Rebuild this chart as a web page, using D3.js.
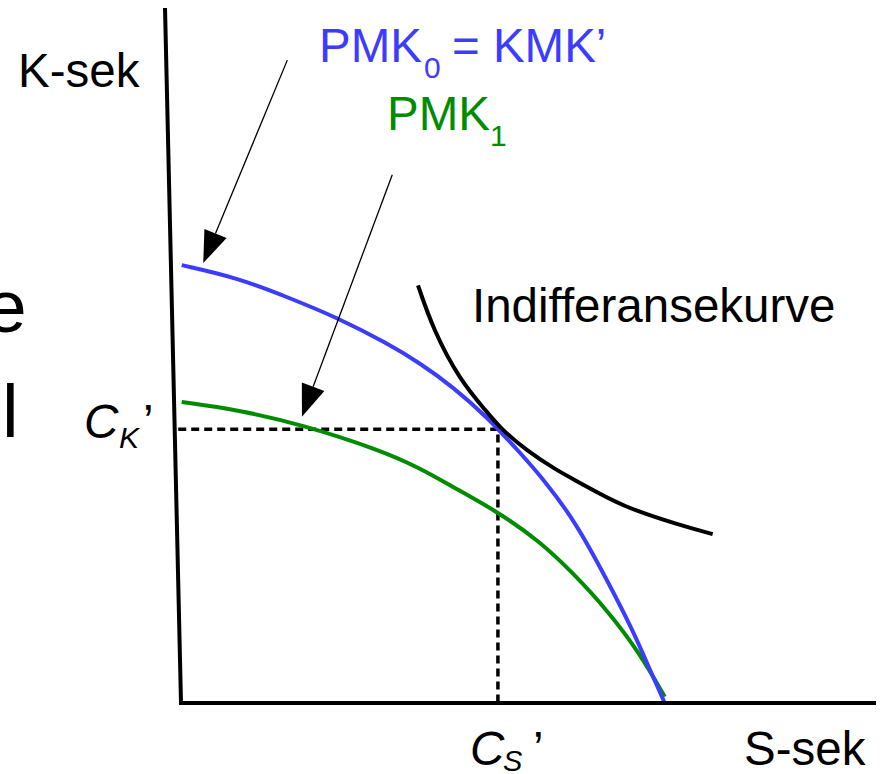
<!DOCTYPE html>
<html>
<head>
<meta charset="utf-8">
<script src="https://cdn.jsdelivr.net/npm/d3@7/dist/d3.min.js"></script>
<style>
  html, body { margin: 0; padding: 0; background: #fff; }
  svg { display: block; font-family: "Liberation Sans", Arial, sans-serif; }
</style>
</head>
<body>
<svg id="chart" width="883" height="774"></svg>
<script>
// ---- data (arbitrary units, 0..100 on both axes) ----
const pmk0Curve = [ // PMK0 = KMK' (blue)
  [0.1, 63.0], [8.1, 61.2], [15.3, 58.4], [22.4, 55.5], [29.6, 51.8],
  [34.4, 48.9], [39.1, 45.5], [44.0, 41.2], [48.8, 36.0], [52.4, 31.9],
  [56.8, 26.0], [61.3, 17.7], [65.0, 10.5], [67.5, 4.7], [69.6, 0.0]
];
const pmk1Curve = [ // PMK1 (green)
  [0.1, 43.3], [8.1, 42.2], [17.6, 40.0], [28.6, 36.4], [34.4, 33.8],
  [39.1, 31.1], [45.6, 27.5], [51.7, 23.2], [56.4, 18.7], [61.3, 13.4],
  [66.0, 7.2], [69.6, 0.9]
];
const indifferenceCurve = [
  [34.1, 60.1], [36.3, 53.7], [40.1, 46.5], [44.0, 41.9], [45.9, 39.6],
  [49.6, 36.4], [54.0, 33.5], [57.4, 31.7], [63.6, 28.2], [71.8, 25.6], [76.5, 24.3]
];
const optimum = { cs: 45.6, ck: 39.4 };
const axisEnds = { xMax: 100, yMax: 100, yTopX: -2.3 };
const arrowPMK0 = [[15.3, 92.5], [3.2, 63.3]];
const arrowPMK1 = [[30.4, 76.0], [17.4, 41.2]];

const blue = "#3c3cff";
const green = "#008c00";

// ---- scales ----
const x = d3.scaleLinear().domain([0, 100]).range([181, 876]);
const y = d3.scaleLinear().domain([0, 100]).range([703, 8]);

const svg = d3.select("#chart");

// partially clipped slide text at left edge
svg.append("text").attr("x", -15).attr("y", 332).attr("font-size", 75).attr("fill", "#000").text("e");
svg.append("text").attr("x", 2).attr("y", 437).attr("font-size", 75).attr("fill", "#000").text("l");

const line = d3.line().x(d => x(d[0])).y(d => y(d[1])).curve(d3.curveBasis);

// dashed guides
svg.append("path")
  .attr("d", d3.line()([[x(-0.4), y(optimum.ck)], [x(optimum.cs), y(optimum.ck)], [x(optimum.cs), y(0)]]))
  .attr("fill", "none").attr("stroke", "#000").attr("stroke-width", 3.5)
  .attr("stroke-dasharray", "8,5");

// curves
svg.append("path").attr("d", line(pmk1Curve)).attr("fill", "none")
  .attr("stroke", green).attr("stroke-width", 4);
svg.append("path").attr("d", line(pmk0Curve)).attr("fill", "none")
  .attr("stroke", blue).attr("stroke-width", 4);
svg.append("path").attr("d", line(indifferenceCurve)).attr("fill", "none")
  .attr("stroke", "#000").attr("stroke-width", 4);

// axes
svg.append("path")
  .attr("d", d3.line()([[x(axisEnds.yTopX), y(axisEnds.yMax)], [x(0), y(0)], [x(axisEnds.xMax), y(0)]]))
  .attr("fill", "none").attr("stroke", "#000").attr("stroke-width", 4)
  .attr("stroke-linejoin", "miter");

// arrows
function arrow(a) {
  const x0 = x(a[0][0]), y0 = y(a[0][1]), x1 = x(a[1][0]), y1 = y(a[1][1]);
  const dx = x1 - x0, dy = y1 - y0, L = Math.hypot(dx, dy);
  const ux = dx / L, uy = dy / L;
  const headLen = 32, halfW = 12;
  const bx = x1 - ux * headLen, by = y1 - uy * headLen;
  svg.append("line").attr("x1", x0).attr("y1", y0).attr("x2", bx).attr("y2", by)
    .attr("stroke", "#000").attr("stroke-width", 1.3);
  svg.append("polygon")
    .attr("points", [[x1, y1], [bx - uy * halfW, by + ux * halfW], [bx + uy * halfW, by - ux * halfW]].map(p => p.join(",")).join(" "))
    .attr("fill", "#000");
}
arrow(arrowPMK0);
arrow(arrowPMK1);

// labels
const fs = 47.5, sub = 30;
svg.append("text").attr("x", 18).attr("y", 87).attr("font-size", fs).text("K-sek");
svg.append("text").attr("x", 744).attr("y", 765).attr("font-size", fs).text("S-sek");
svg.append("text").attr("x", 472).attr("y", 322).attr("font-size", fs).text("Indifferansekurve");

const t0 = svg.append("text").attr("fill", blue);
t0.append("tspan").attr("x", 319).attr("y", 62).attr("font-size", fs).text("PMK");
t0.append("tspan").attr("x", 424).attr("y", 78).attr("font-size", sub).text("0");
t0.append("tspan").attr("x", 452).attr("y", 62).attr("font-size", fs).text("= KMK\u2019");

const t1 = svg.append("text").attr("fill", green);
t1.append("tspan").attr("x", 387).attr("y", 130).attr("font-size", fs).text("PMK");
t1.append("tspan").attr("x", 490).attr("y", 146).attr("font-size", sub).text("1");

const ck = svg.append("text").attr("font-style", "italic");
ck.append("tspan").attr("x", 84).attr("y", 438).attr("font-size", fs).text("C");
ck.append("tspan").attr("x", 119).attr("y", 448).attr("font-size", 30).text("K");
ck.append("tspan").attr("x", 143).attr("y", 438).attr("font-size", fs).attr("font-style", "normal").text("\u2019");

const cs = svg.append("text").attr("font-style", "italic");
cs.append("tspan").attr("x", 470).attr("y", 765).attr("font-size", fs).text("C");
cs.append("tspan").attr("x", 503).attr("y", 771).attr("font-size", 29).text("S");
cs.append("tspan").attr("x", 533).attr("y", 765).attr("font-size", fs).attr("font-style", "normal").text("\u2019");
</script>
</body>
</html>
